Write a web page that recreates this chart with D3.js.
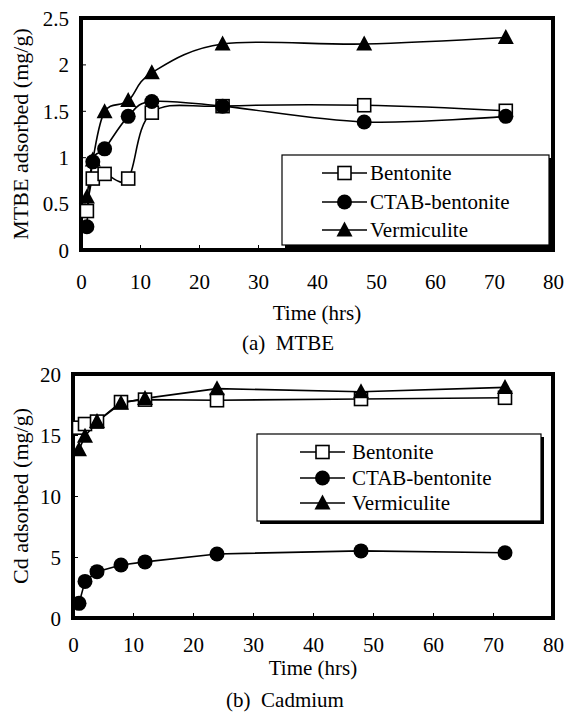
<!DOCTYPE html>
<html><head><meta charset="utf-8">
<script src="https://cdn.jsdelivr.net/npm/d3@7/dist/d3.min.js"></script>
<style>
html,body{margin:0;padding:0;background:#fff;}
text{font-family:"Liberation Serif","Times New Roman",serif;fill:#000;}
</style></head>
<body>
<svg id="fig" width="565" height="720"></svg>
<script>
// ---- data ----
const times = [1, 2, 4, 8, 12, 24, 48, 72];
const seriesNames = ["Bentonite", "CTAB-bentonite", "Vermiculite"];
const mtbeBentonite = [0.42, 0.77, 0.82, 0.77, 1.48, 1.55, 1.56, 1.50];
const mtbeCtab      = [0.25, 0.95, 1.09, 1.44, 1.60, 1.55, 1.38, 1.44];
const mtbeVerm      = [0.57, 0.97, 1.49, 1.61, 1.91, 2.22, 2.22, 2.29];
const cdBentonite   = [15.6, 15.9, 16.1, 17.7, 17.9, 17.85, 17.95, 18.05];
const cdCtab        = [1.2, 3.0, 3.8, 4.35, 4.6, 5.25, 5.5, 5.35];
const cdVerm        = [13.8, 14.9, 16.1, 17.6, 18.0, 18.8, 18.55, 18.9];
const xTicks = [0, 10, 20, 30, 40, 50, 60, 70, 80];
const mtbeYTicks = [0, 0.5, 1, 1.5, 2, 2.5];
const cdYTicks = [0, 5, 10, 15, 20];

const svg = d3.select("#fig");
const FS = 21;

function panel(cfg) {
  const {left, right, top, bottom, yMax, yTicks, series, yLabel, yLabelX, caption, captionX, captionY, timeY, tickY, legend, smooth} = cfg;
  const x = d3.scaleLinear().domain([0, 80]).range([left, right]);
  const y = d3.scaleLinear().domain([0, yMax]).range([bottom, top]);
  const g = svg.append("g");

  // axes (inside ticks)
  const xa = g.append("g").attr("transform", `translate(0,${bottom})`)
    .call(d3.axisBottom(x).tickValues(xTicks).tickSizeInner(-5).tickSizeOuter(0).tickFormat(d3.format("~g")));
  xa.select(".domain").remove();
  xa.selectAll("text").attr("y", tickY).attr("dy", null).style("font-size", FS + "px").attr("font-family", null);
  const ya = g.append("g").attr("transform", `translate(${left},0)`)
    .call(d3.axisLeft(y).tickValues(yTicks).tickSizeInner(-5).tickSizeOuter(0).tickFormat(d3.format("~g")));
  ya.select(".domain").remove();
  ya.selectAll("text").attr("x", -12).attr("dy", "0.35em").style("font-size", FS + "px").attr("font-family", null);
  g.selectAll(".tick line").attr("stroke", "#000").attr("stroke-width", 1);

  // frame
  g.append("rect").attr("x", left).attr("y", top).attr("width", right - left).attr("height", bottom - top)
    .attr("fill", "none").attr("stroke", "#000").attr("stroke-width", 4);

  // lines
  const line = d3.line().x((d, i) => x(times[i])).y(d => y(d))
    .curve(smooth ? d3.curveCatmullRom.alpha(0) : d3.curveLinear);
  series.forEach(s => {
    g.append("path").attr("d", line(s.values)).attr("fill", "none").attr("stroke", "#000").attr("stroke-width", 1.6);
  });
  series.forEach(s => {
    s.values.forEach((v, i) => drawMarker(g, s.type, x(times[i]), y(v)));
  });

  // legend
  const L = legend;
  g.append("rect").attr("x", L.x0 + 3).attr("y", L.y0 + 3).attr("width", L.x1 - L.x0).attr("height", L.y1 - L.y0).attr("fill", "#000");
  g.append("rect").attr("x", L.x0).attr("y", L.y0).attr("width", L.x1 - L.x0).attr("height", L.y1 - L.y0)
    .attr("fill", "#fff").attr("stroke", "#000").attr("stroke-width", 1.2);
  series.forEach((s, i) => {
    const ry = L.rows[i];
    g.append("line").attr("x1", L.lx0).attr("x2", L.lx1).attr("y1", ry).attr("y2", ry).attr("stroke", "#000").attr("stroke-width", 1.6);
    drawMarker(g, s.type, (L.lx0 + L.lx1) / 2, ry);
    g.append("text").attr("x", L.tx).attr("y", ry).attr("dy", "0.35em").style("font-size", FS + "px").text(s.name);
  });

  // labels
  g.append("text").attr("transform", `translate(${yLabelX},${(top + bottom) / 2}) rotate(-90)`)
    .attr("text-anchor", "middle").style("font-size", "22px").text(yLabel);
  g.append("text").attr("x", (left + right) / 2).attr("y", timeY).attr("text-anchor", "middle").style("font-size", FS + "px").text("Time (hrs)");
  g.append("text").attr("x", captionX).attr("y", captionY).attr("text-anchor", "middle").style("font-size", FS + "px")
    .attr("xml:space", "preserve").style("white-space", "pre").text(caption);
}

function drawMarker(g, type, cx, cy) {
  if (type === "square") {
    const s = 13;
    g.append("rect").attr("x", cx - s / 2).attr("y", cy - s / 2).attr("width", s).attr("height", s)
      .attr("fill", "#fff").attr("stroke", "#000").attr("stroke-width", 1.6);
  } else if (type === "circle") {
    g.append("circle").attr("cx", cx).attr("cy", cy).attr("r", 7.5).attr("fill", "#000");
  } else {
    g.append("path").attr("d", `M${cx},${cy - 8.5}L${cx + 8},${cy + 6.5}L${cx - 8},${cy + 6.5}Z`).attr("fill", "#000");
  }
}

panel({
  left: 81, right: 553, top: 18, bottom: 250, yMax: 2.5, yTicks: mtbeYTicks, smooth: true, tickY: 39,
  series: [
    {name: seriesNames[0], type: "square", values: mtbeBentonite},
    {name: seriesNames[1], type: "circle", values: mtbeCtab},
    {name: seriesNames[2], type: "triangle", values: mtbeVerm}
  ],
  yLabel: "MTBE adsorbed (mg/g)", yLabelX: 28,
  timeY: 320, caption: "(a)  MTBE", captionX: 288, captionY: 350,
  legend: {x0: 282, y0: 155, x1: 549, y1: 245, lx0: 322, lx1: 367, tx: 370, rows: [173, 202, 230]}
});

panel({
  left: 73, right: 553, top: 374, bottom: 618, yMax: 20, yTicks: cdYTicks, smooth: false, tickY: 34,
  series: [
    {name: seriesNames[0], type: "square", values: cdBentonite},
    {name: seriesNames[1], type: "circle", values: cdCtab},
    {name: seriesNames[2], type: "triangle", values: cdVerm}
  ],
  yLabel: "Cd adsorbed (mg/g)", yLabelX: 28,
  timeY: 675, caption: "(b)  Cadmium", captionX: 285, captionY: 707,
  legend: {x0: 257, y0: 434, x1: 541, y1: 521, lx0: 300, lx1: 345, tx: 352, rows: [452, 478, 503]}
});
</script>
</body></html>
